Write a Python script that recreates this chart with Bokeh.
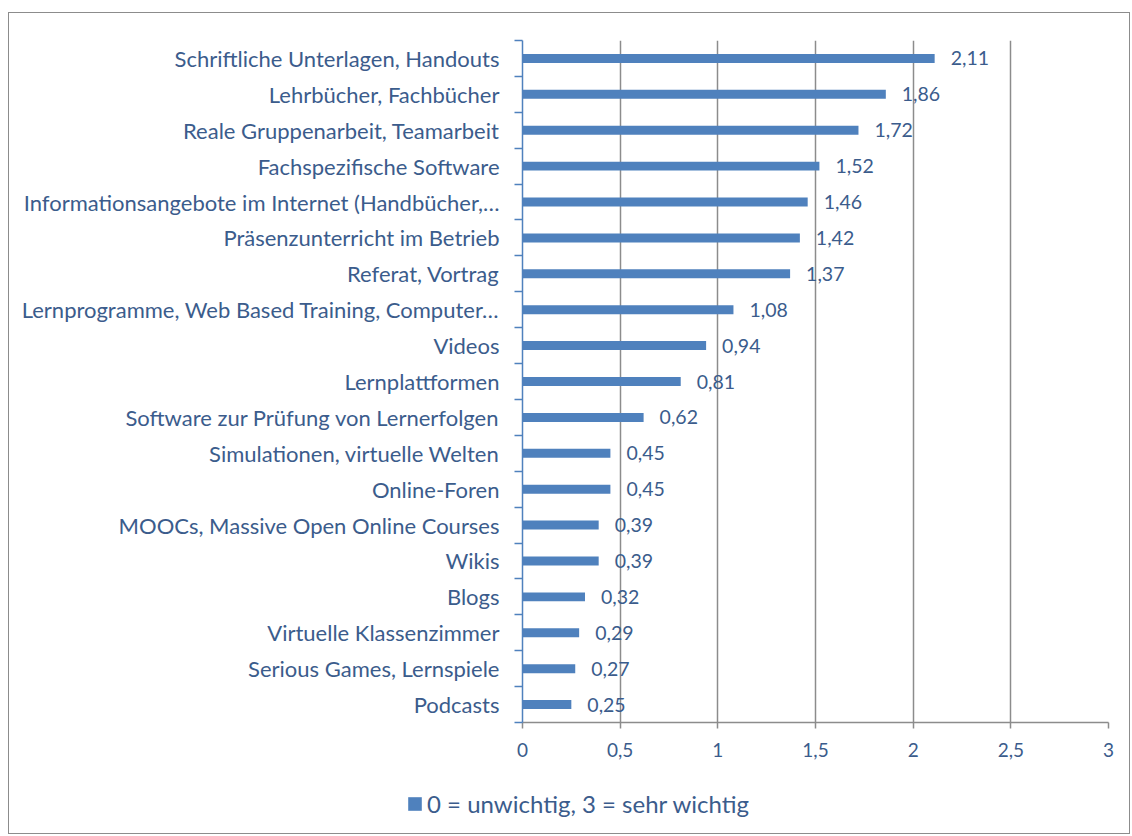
from bokeh.plotting import figure
from bokeh.layouts import column
from bokeh.models import FixedTicker, Range1d, Legend, LegendItem, ColumnDataSource, LabelSet
from bokeh.core.properties import value
from bokeh.embed import file_html
from bokeh.resources import INLINE

categories = [
    "Schriftliche Unterlagen, Handouts",
    "Lehrbücher, Fachbücher",
    "Reale Gruppenarbeit, Teamarbeit",
    "Fachspezifische Software",
    "Informationsangebote im Internet (Handbücher,…",
    "Präsenzunterricht im Betrieb",
    "Referat, Vortrag",
    "Lernprogramme, Web Based Training, Computer…",
    "Videos",
    "Lernplattformen",
    "Software zur Prüfung von Lernerfolgen",
    "Simulationen, virtuelle Welten",
    "Online-Foren",
    "MOOCs, Massive Open Online Courses",
    "Wikis",
    "Blogs",
    "Virtuelle Klassenzimmer",
    "Serious Games, Lernspiele",
    "Podcasts",
]
values = [2.11, 1.86, 1.72, 1.52, 1.46, 1.42, 1.37, 1.08, 0.94, 0.81,
          0.62, 0.45, 0.45, 0.39, 0.39, 0.32, 0.29, 0.27, 0.25]
x_ticks = [0, 0.5, 1, 1.5, 2, 2.5, 3]
x_tick_labels = ["0", "0,5", "1", "1,5", "2", "2,5", "3"]
legend_label = "0 = unwichtig, 3 = sehr wichtig"

TEXT = "#3B5C8C"
BAR = "#4F81BD"
GRID = "#8C8C8C"
FONT = "Lato"

n = len(categories)
ypos = [n - 1 - i for i in range(n)]
src = ColumnDataSource(dict(
    y=ypos, v=values, name=categories,
    lbl=[("%.2f" % v).replace(".", ",") for v in values],
))

p = figure(width=1120, height=754, output_backend="svg", toolbar_location=None,
           x_range=Range1d(0, 3), y_range=Range1d(-0.5, n - 0.5),
           min_border_left=513, min_border_right=21, min_border_top=27,
           min_border_bottom=45)
p.frame_align = False
p.outline_line_color = None
p.background_fill_color = "white"
p.border_fill_color = "white"

p.ygrid.visible = False
p.xgrid.ticker = FixedTicker(ticks=x_ticks[1:])
p.xgrid.grid_line_color = GRID
p.xgrid.grid_line_width = 1.5

r = p.hbar(y="y", right="v", left=0, height=0.25, source=src,
           fill_color=BAR, line_color=BAR, line_width=0)

xa = p.xaxis[0]
xa.ticker = FixedTicker(ticks=x_ticks)
xa.major_label_overrides = {float(t): l for t, l in zip(x_ticks, x_tick_labels)}
xa.axis_line_color = GRID
xa.axis_line_width = 1.5
xa.major_tick_line_color = GRID
xa.major_tick_line_width = 1.5
xa.major_tick_out = 6
xa.major_tick_in = 0
xa.minor_tick_line_color = None
xa.major_label_text_font = FONT
xa.major_label_text_font_size = "19px"
xa.major_label_text_color = TEXT
xa.major_label_standoff = 14

ya = p.yaxis[0]
ya.ticker = FixedTicker(ticks=ypos, minor_ticks=[i - 0.5 for i in range(n + 1)])
ya.major_label_overrides = {float(y): c for y, c in zip(ypos, categories)}
ya.axis_line_color = BAR
ya.axis_line_width = 1.5
ya.major_tick_out = 0
ya.major_tick_in = 0
ya.minor_tick_line_color = BAR
ya.minor_tick_line_width = 1.5
ya.minor_tick_out = 8
ya.minor_tick_in = 0
ya.major_label_text_font = FONT
ya.major_label_text_font_size = "22px"
ya.major_label_text_color = TEXT
ya.major_label_standoff = 15

labels = LabelSet(x="v", y="y", text="lbl", source=src, x_offset=16,
                  text_baseline="middle", text_align="left",
                  text_font=value(FONT), text_font_size=value("19.5px"),
                  text_color=value(TEXT))
p.add_layout(labels)

# legend strip below the chart
lg = figure(width=1120, height=66, output_backend="svg", toolbar_location=None,
            x_range=Range1d(0, 1), y_range=Range1d(0, 1),
            x_axis_location=None, y_axis_location=None,
            min_border_left=0, min_border_right=0, min_border_top=0,
            min_border_bottom=0)
lg.frame_align = False
lg.outline_line_color = None
lg.grid.visible = False
lg.background_fill_color = "white"
lg.border_fill_color = "white"
# legend swatch renderer; its bar lies outside the strip's visible range
dummy = lg.hbar(y=[5], right=[5], left=4, height=0.25,
                fill_color=BAR, line_color=BAR, line_width=0)
legend = Legend(items=[LegendItem(label=legend_label, renderers=[dummy])],
                location=(397, 15), orientation="horizontal",
                glyph_width=17, glyph_height=17, label_standoff=4,
                padding=0, margin=0, spacing=0,
                border_line_color=None, background_fill_alpha=0,
                label_text_font=FONT, label_text_font_size="24px",
                label_text_color=TEXT)
lg.add_layout(legend)

layout = column(p, lg, spacing=0)
layout.styles = {"border": "1px solid #8C8C8C", "margin-left": "8px",
                 "margin-top": "12px"}

open("out.html", "w").write(file_html(layout, INLINE))
